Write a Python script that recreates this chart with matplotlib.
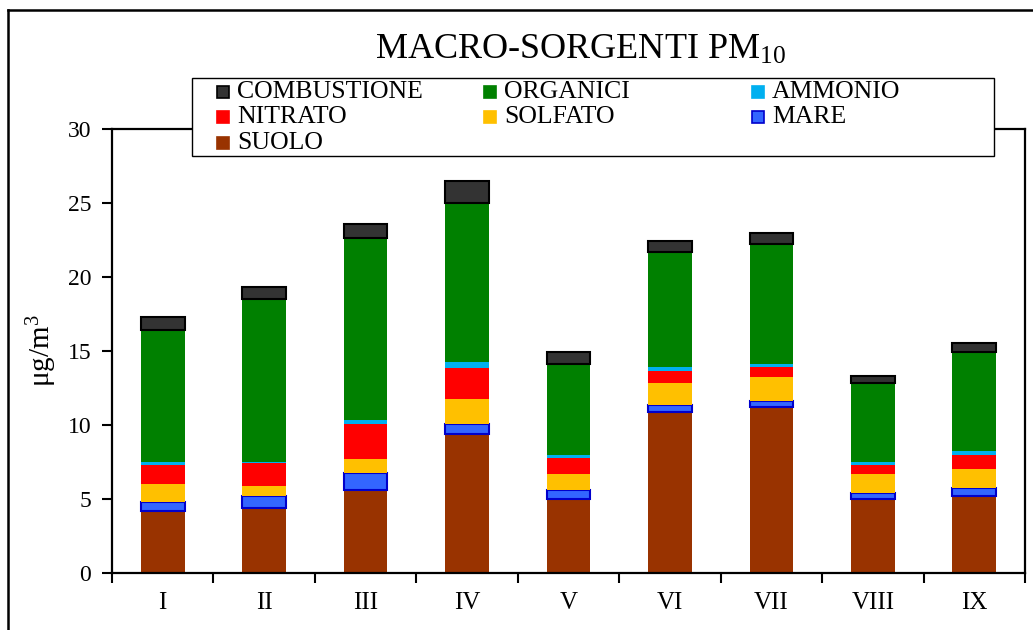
import numpy as np
import matplotlib
matplotlib.use("Agg")
import matplotlib.pyplot as plt
from matplotlib.patches import Rectangle
from matplotlib.lines import Line2D

# ----------------------------
# DATA (ug/m3)
# ----------------------------
categories = ["I", "II", "III", "IV", "V", "VI", "VII", "VIII", "IX"]

suolo = [4.18, 4.40, 5.64, 9.37, 4.97, 10.88, 11.22, 5.01, 5.17]
mare = [0.63, 0.79, 1.09, 0.72, 0.61, 0.45, 0.41, 0.39, 0.56]
solfato = [1.22, 0.68, 0.94, 1.69, 1.08, 1.54, 1.58, 1.26, 1.31]
nitrato = [1.24, 1.55, 2.38, 2.06, 1.08, 0.79, 0.72, 0.61, 0.95]
ammonio = [0.22, 0.10, 0.29, 0.43, 0.23, 0.29, 0.22, 0.22, 0.25]
organici = [8.92, 10.97, 12.30, 10.72, 6.18, 7.77, 8.08, 5.35, 6.70]
combustione = [0.86, 0.86, 0.95, 1.53, 0.79, 0.70, 0.73, 0.48, 0.61]

# stacking order, bottom to top
series_names = ["SUOLO", "MARE", "SOLFATO", "NITRATO", "AMMONIO", "ORGANICI", "COMBUSTIONE"]
series_values = [suolo, mare, solfato, nitrato, ammonio, organici, combustione]
series_colors = ["#993300", "#3366FF", "#FFC000", "#FF0000", "#00B0F0", "#008000", "#333333"]
series_edges = [None, "#0000CC", None, None, None, None, "#000000"]

# legend order as it appears in the box (row by row)
legend_rows = [["COMBUSTIONE", "ORGANICI", "AMMONIO"],
               ["NITRATO", "SOLFATO", "MARE"],
               ["SUOLO"]]

# ----------------------------
# STYLE
# ----------------------------
plt.rcParams["font.family"] = ["Liberation Serif", "DejaVu Serif"]
plt.rcParams["mathtext.fontset"] = "custom"
plt.rcParams["mathtext.rm"] = "Liberation Serif"
plt.rcParams["mathtext.it"] = "Liberation Serif"

W, H = 1033, 630
fig = plt.figure(figsize=(W / 100, H / 100), dpi=100)


def fx(px):
    return px / W


def fy(py):
    return 1 - py / H


ax = fig.add_axes([fx(112), fy(573), fx(1025) - fx(112), fy(129) - fy(573)])

x = np.arange(len(categories))
bottom = np.zeros(len(categories))
for name, vals, col, edge in zip(series_names, series_values, series_colors, series_edges):
    vals = np.array(vals)
    if edge is None:
        ax.bar(x, vals, 0.43, bottom=bottom, color=col, linewidth=0, label=name)
    else:
        ax.bar(x, vals, 0.43, bottom=bottom, color=col, edgecolor=edge,
               linewidth=1.5, label=name)
    bottom += vals

ax.set_xlim(-0.5, len(categories) - 0.5)
ax.set_ylim(0, 30)
ax.set_yticks(np.arange(0, 31, 5))
ax.tick_params(axis="y", labelsize=17, length=7, width=1.5, direction="out", pad=8)

ax.set_xticks(x)
ax.set_xticklabels(categories)
ax.set_xticks(np.arange(-0.5, len(categories), 1), minor=True)
ax.tick_params(axis="x", which="major", length=0, labelsize=18, pad=14)
ax.tick_params(axis="x", which="minor", length=7, width=1.5, direction="out")

for s in ax.spines.values():
    s.set_linewidth(1.6)

ax.set_ylabel(r"$\mathrm{\mu g/m^3}$", fontsize=21, labelpad=6)

# title
fig.text(fx(581), fy(50), r"MACRO-SORGENTI PM$_{10}$", fontsize=26,
         ha="center", va="center")

# ----------------------------
# Legend box (Excel style, equal columns)
# ----------------------------
fig.add_artist(Rectangle((fx(192), fy(156)), fx(994) - fx(192), fy(78) - fy(156),
                         transform=fig.transFigure, facecolor="white",
                         edgecolor="black", linewidth=1.0, zorder=5))
col_x = [217, 484, 752]
row_y = [92, 117, 143]
msize = 12
for r, row in enumerate(legend_rows):
    for c, name in enumerate(row):
        i = series_names.index(name)
        edge = series_edges[i] if series_edges[i] else series_colors[i]
        fig.add_artist(Rectangle((fx(col_x[c]), fy(row_y[r] + msize / 2)),
                                 fx(msize), fy(0) - fy(msize),
                                 transform=fig.transFigure,
                                 facecolor=series_colors[i], edgecolor=edge,
                                 linewidth=1.2, zorder=6))
        fig.text(fx(col_x[c] + 20), fy(row_y[r]), name, fontsize=18.5,
                 ha="left", va="center", zorder=7)

# outer chart frame (left and top edges visible)
fig.add_artist(Line2D([fx(8), fx(8)], [0, fy(10)], transform=fig.transFigure,
                      color="black", linewidth=1.8))
fig.add_artist(Line2D([fx(8), 1], [fy(10), fy(10)], transform=fig.transFigure,
                      color="black", linewidth=1.8))

fig.savefig("out.png", dpi=100)
